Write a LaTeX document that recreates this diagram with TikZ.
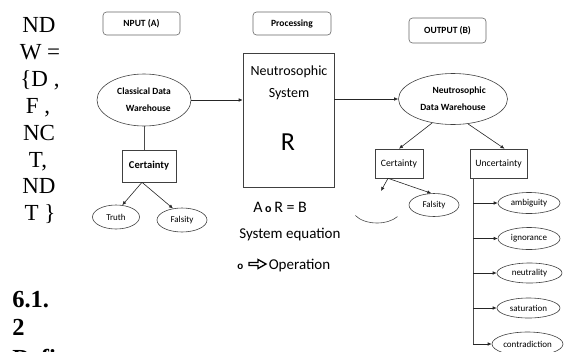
\documentclass[tikz,border=0pt]{standalone}
\usepackage{fontspec}
\setmainfont{Carlito}
\newfontfamily\serifbody{Liberation Serif}
\usetikzlibrary{shapes.geometric,arrows.meta}
\begin{document}
\begin{tikzpicture}[x=1pt,y=-1pt,
  line width=0.6pt,
  arr/.style={draw=black!85,-{Latex[length=4pt,width=3.6pt]}},
  link/.style={draw=black!70},
  tag/.style={draw=black!60, rounded corners=3.5pt, inner sep=0pt,
    font=\fontsize{9.5}{11}\selectfont\bfseries},
  oval/.style={draw=black!75, ellipse, inner sep=0pt},
  sbox/.style={draw=black!75, inner sep=0pt},
  leaf/.style={oval, font=\fontsize{9}{10}\selectfont},
  col/.style={font=\serifbody\fontsize{23}{27}\selectfont, anchor=base, inner sep=0pt},
  colb/.style={font=\serifbody\bfseries\fontsize{24.5}{28}\selectfont, anchor=base west, inner sep=0pt},
  note/.style={anchor=base west, inner sep=0pt},
]
\useasboundingbox (0,0) rectangle (572,351);
\clip (0,0) rectangle (572,351);

% ---- running text column on the left
\node[col] (l1) at (39,32)  {ND};
\node[col] (l2) at (40,59)  {W =};
\node[col] (l3) at (40,86)  {\{D ,};
\node[col] (l4) at (38,113) {F ,};
\node[col] (l5) at (39,140) {NC};
\node[col] (l6) at (38,167) {T,};
\node[col] (l7) at (39,193) {ND};
\node[col] (l8) at (40,220) {T \}};
\node[colb] (h1) at (12,307) {6.1.};
\node[colb] (h2) at (12,335) {2};
\node[colb] (h3) at (12,366) {Defi};

% ---- stage headers
\node[tag, minimum width=77pt, minimum height=23pt] (inA)  at (141.5,23.5) {NPUT (A)};
\node[tag, minimum width=78pt, minimum height=23pt] (proc) at (292,23.5)   {Processing};
\node[tag, minimum width=77pt, minimum height=25pt] (outB) at (447.5,30.5) {OUTPUT (B)};

% ---- input side
\node[oval, minimum width=94pt, minimum height=52pt, align=right,
      font=\fontsize{9.5}{17}\selectfont\bfseries] (cdw) at (144,100)
      {Classical Data\\Warehouse};
\node[sbox, minimum width=54pt, minimum height=32pt,
      font=\fontsize{10.5}{12}\selectfont\bfseries] (cert1) at (149,166) {Certainty};
\node[leaf, minimum width=47pt, minimum height=24pt] (truth) at (116,217) {Truth};
\node[leaf, minimum width=50pt, minimum height=24pt] (fals1) at (182,220) {Falsity};

\draw[link] (cdw.south) -- (cdw.south |- cert1.north);
\draw[arr] ([xshift=-7pt]cert1.south) -- (truth.62);
\draw[arr] ([xshift=-7pt]cert1.south) -- (fals1.128);

% ---- processing block
\node[sbox, minimum width=91pt, minimum height=134pt] (sys) at (288.5,120) {};
\node[anchor=base, inner sep=0pt, font=\fontsize{14}{16}\selectfont] (sysA) at (289,75) {Neutrosophic};
\node[anchor=base, inner sep=0pt, font=\fontsize{14}{16}\selectfont] (sysB) at (289,97) {System};
\node[anchor=base, inner sep=0pt, font=\fontsize{26}{28}\selectfont] (sysR) at (288,150) {R};

\draw[arr] (cdw.east) -- (cdw.east -| sys.west);

\node[note, font=\fontsize{16}{18}\selectfont] (eqn) at (253,212)
  {A\,{\bfseries\fontsize{12}{14}\selectfont o}\,R = B};
\node[note, font=\fontsize{15}{17}\selectfont] (eqlab) at (239,238) {System equation};
\node[note, font=\fontsize{15}{17}\selectfont] (ring) at (237,269)
  {{\bfseries\fontsize{11}{13}\selectfont o}};
% heavy outlined arrow between the ring and its meaning
\draw[line width=1.3pt, fill=white, line join=miter]
  (249,262.5) -- (258,262.5) -- (258,259.5) -- (266,264) -- (258,268.5)
  -- (258,265.5) -- (249,265.5) -- cycle;
\node[note, font=\fontsize{15}{17}\selectfont] (oplab) at (268.5,269) {Operation};

% ---- output side
\node[oval, minimum width=109pt, minimum height=51pt, align=right,
      font=\fontsize{9.5}{17}\selectfont\bfseries] (ndw) at (453,99)
      {Neutrosophic\\Data Warehouse};
\draw[arr] (sys.east |- ndw.west) -- (ndw.west);

\node[sbox, minimum width=48pt, minimum height=29pt,
      font=\fontsize{9.7}{11}\selectfont] (certR) at (399,163.5) {Certainty};
\node[sbox, minimum width=57pt, minimum height=29pt,
      font=\fontsize{9.7}{11}\selectfont] (uncR) at (498.5,163.5) {Uncertainty};

\draw[arr] (ndw.229) -- (certR.north);
\draw[arr] (ndw.301) -- ([xshift=6pt]uncR.north);

\node[leaf, minimum width=50pt, minimum height=23pt] (fals2) at (434,205) {Falsity};
\coordinate (hidtip) at (381,191);
\draw[arr] ([xshift=-11pt]certR.south) -- (hidtip);
\draw[arr] ([xshift=-11pt]certR.south) -- (fals2.103);
% lower rim of the half-hidden truth oval
\draw[draw=black!70] (355.35,215.5) arc[start angle=150, end angle=35, x radius=25, y radius=15];

% uncertainty branches
\node[leaf, minimum width=62pt, minimum height=21pt] (amb) at (529,203)   {ambiguity};
\node[leaf, minimum width=62pt, minimum height=22pt] (ign) at (529,238.5) {ignorance};
\node[leaf, minimum width=65pt, minimum height=20pt] (neu) at (529.5,273) {neutrality};
\node[leaf, minimum width=63pt, minimum height=20pt] (sat) at (528.5,308) {saturation};
\node[leaf, minimum width=71pt, minimum height=24pt] (con) at (527.5,344) {contradiction};

\coordinate (trunk) at (473,178);
\draw[link] (trunk) -- (trunk |- con.west);
\foreach \b in {amb,ign,neu,sat,con}
  \draw[arr] (trunk |- \b.west) -- (\b.west);
\end{tikzpicture}
\end{document}
